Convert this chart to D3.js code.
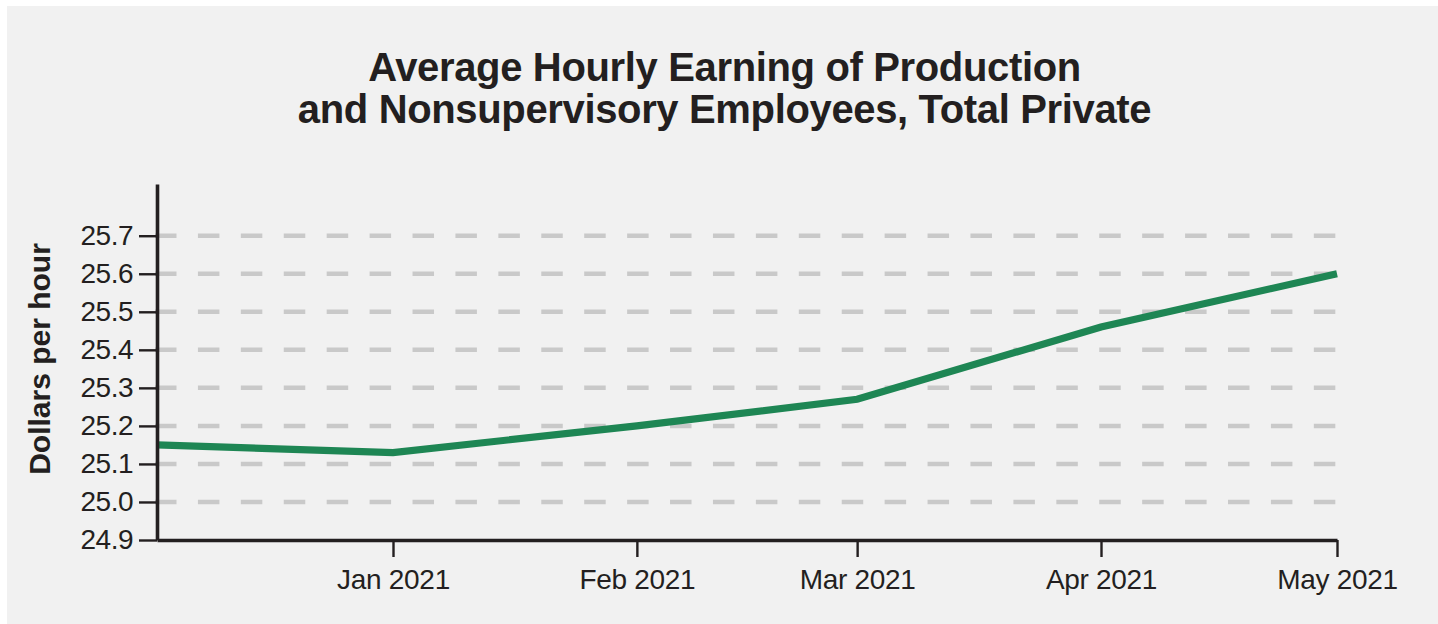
<!DOCTYPE html>
<html>
<head>
<meta charset="utf-8">
<script src="https://cdn.jsdelivr.net/npm/d3@7"></script>
<style>
  html, body { margin: 0; padding: 0; background: #ffffff; }
  svg { display: block; }
</style>
</head>
<body>
<svg id="chart" width="1438" height="624"></svg>
<script>
// ---- data ----
const titleLines = ["Average Hourly Earning of Production", "and Nonsupervisory Employees, Total Private"];
const yAxisLabel = "Dollars per hour";
const dates = ["2020-12-02", "2021-01-01", "2021-02-01", "2021-03-01", "2021-04-01", "2021-05-01"];
const values = [25.15, 25.13, 25.20, 25.27, 25.46, 25.60];
const xTickDates = ["2021-01-01", "2021-02-01", "2021-03-01", "2021-04-01", "2021-05-01"];
const xTickLabels = ["Jan 2021", "Feb 2021", "Mar 2021", "Apr 2021", "May 2021"];
const yTicks = [24.9, 25.0, 25.1, 25.2, 25.3, 25.4, 25.5, 25.6, 25.7];
const xDomain = ["2020-12-02", "2021-05-01"];
const yDomain = [24.9, 25.836];

// ---- setup ----
const parse = d3.utcParse("%Y-%m-%d");
const svg = d3.select("#chart");
const textColor = "#231f20";

svg.append("rect").attr("x", 7).attr("y", 6).attr("width", 1438 - 7).attr("height", 624 - 6).attr("fill", "#f1f1f1");

const x = d3.scaleUtc().domain(xDomain.map(parse)).range([157, 1337]);
const y = d3.scaleLinear().domain(yDomain).range([540, 184]);

// title
const title = svg.append("text")
  .attr("text-anchor", "middle")
  .attr("font-family", "'Liberation Sans', Arial, sans-serif")
  .attr("font-weight", 700)
  .attr("font-size", 40)
  .attr("letter-spacing", "-0.35px")
  .attr("fill", textColor);
titleLines.forEach((t, i) => {
  title.append("tspan").attr("x", 724.5).attr("y", 80.5 + i * 42.5).text(t);
});

// gridlines
svg.append("g")
  .selectAll("line")
  .data(yTicks.filter(v => v !== yDomain[0]))
  .join("line")
  .attr("x1", 155)
  .attr("x2", x.range()[1])
  .attr("y1", d => y(d))
  .attr("y2", d => y(d))
  .attr("stroke", "#c9c9c9")
  .attr("stroke-width", 4.5)
  .attr("stroke-dasharray", "21.5,21.42");

// line
const data = dates.map((d, i) => ({ date: parse(d), value: values[i] }));
svg.append("path")
  .datum(data)
  .attr("fill", "none")
  .attr("stroke", "#1e8654")
  .attr("stroke-width", 7.2)
  .attr("stroke-linejoin", "miter")
  .attr("d", d3.line().x(d => x(d.date)).y(d => y(d.value)));

// y axis
const yAxis = svg.append("g")
  .attr("transform", "translate(157,0)")
  .call(d3.axisLeft(y).tickValues(yTicks).tickFormat(d3.format(".1f")).tickSize(18).tickSizeOuter(0).tickPadding(6));
yAxis.select(".domain").attr("stroke", textColor).attr("stroke-width", 3.6);
yAxis.selectAll(".tick line").attr("stroke", textColor).attr("stroke-width", 2.4);
yAxis.selectAll(".tick text")
  .attr("fill", textColor)
  .attr("font-family", "'Liberation Sans', Arial, sans-serif")
  .attr("font-size", 28)
  .attr("letter-spacing", "-0.5px");

// x axis
const xAxis = svg.append("g")
  .attr("transform", "translate(0,540)")
  .call(d3.axisBottom(x)
    .tickValues(xTickDates.map(parse))
    .tickFormat((d, i) => xTickLabels[i])
    .tickSize(17).tickSizeOuter(0).tickPadding(12));
xAxis.select(".domain").attr("stroke", textColor).attr("stroke-width", 3.6);
xAxis.selectAll(".tick line").attr("stroke", textColor).attr("stroke-width", 2.4);
xAxis.selectAll(".tick text")
  .attr("fill", textColor)
  .attr("font-family", "'Liberation Sans', Arial, sans-serif")
  .attr("font-size", 28)
  .attr("letter-spacing", "-0.3px");

// y axis label
svg.append("text")
  .attr("transform", "translate(50,359) rotate(-90)")
  .attr("text-anchor", "middle")
  .attr("font-family", "'Liberation Sans', Arial, sans-serif")
  .attr("font-weight", 700)
  .attr("font-size", 30)
  .attr("fill", textColor)
  .text(yAxisLabel);
</script>
</body>
</html>
